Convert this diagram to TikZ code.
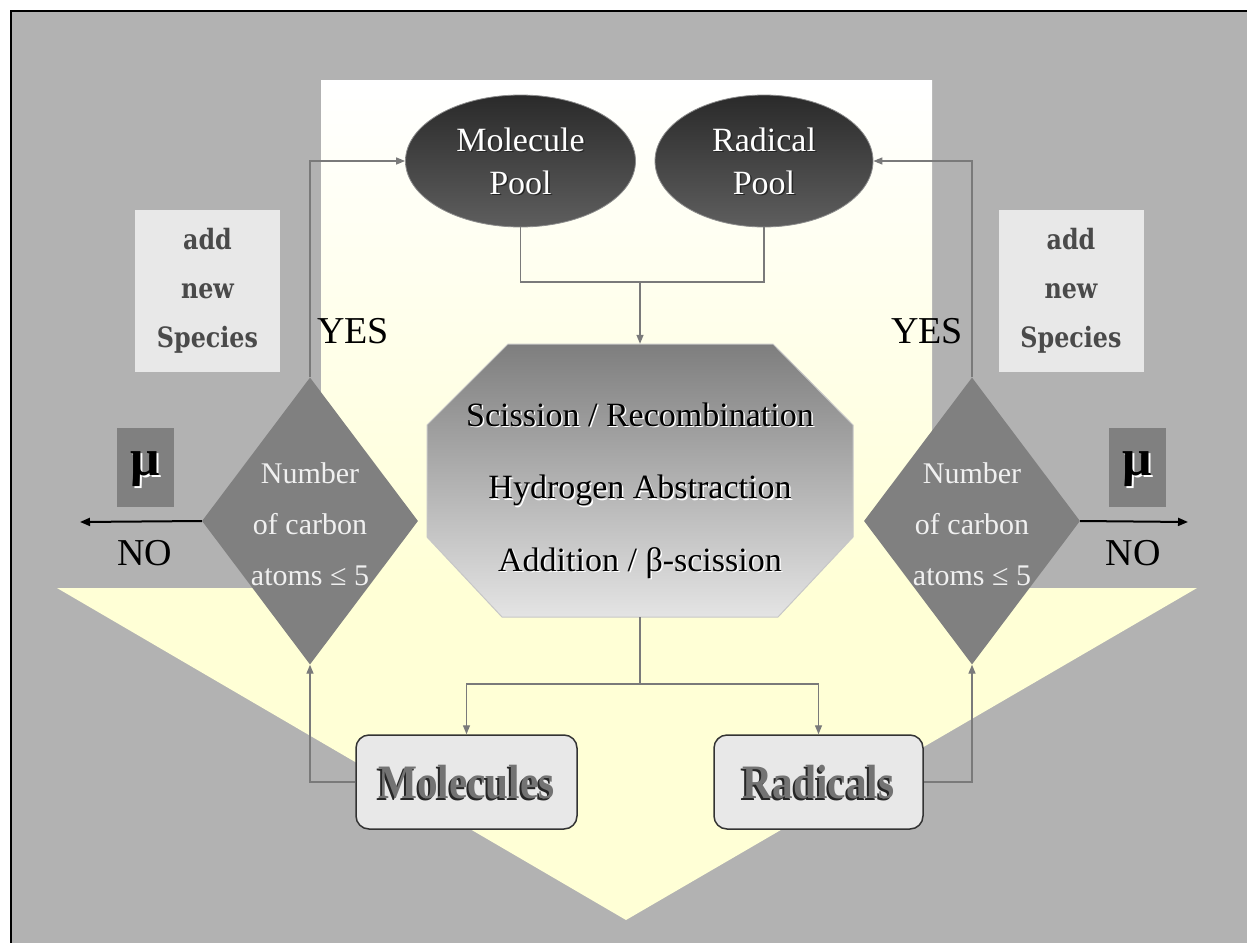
\documentclass[tikz,border=0pt]{standalone}
\usepackage{fontspec}
\setmainfont{Liberation Serif}
\newfontfamily\slabfont{DejaVu Serif}[FakeStretch=0.85]
\newfontfamily\boxfont{Liberation Serif}[FakeStretch=0.86]
\usetikzlibrary{shapes.geometric,arrows.meta,calc}

\definecolor{bggray}{HTML}{B2B2B2}
\definecolor{paleyellow}{HTML}{FFFFD6}
\definecolor{lightbox}{HTML}{E8E8E8}
\definecolor{midgray}{HTML}{808080}
\definecolor{linegray}{HTML}{7A7A7A}
\definecolor{darktext}{HTML}{4A4A4A}
\definecolor{poolTop}{HTML}{2A2A2A}
\definecolor{poolBot}{HTML}{5E5E5E}
\definecolor{octTop}{HTML}{7E7E7E}
\definecolor{octBot}{HTML}{E4E4E4}
\definecolor{embossgray}{HTML}{737373}

% background block arrow: white at the top, pale yellow from the head down
\pgfdeclareverticalshading{arrowfill}{100bp}{color(0bp)=(paleyellow); color(44.8bp)=(paleyellow); color(75bp)=(white); color(100bp)=(white)}

% text with an offset copy behind it
\newcommand\dropshadowtext[4]{\makebox[0pt][l]{\hspace*{#2}\raisebox{#3}[0pt][0pt]{\color{#1}#4}}#4}

\begin{document}
\begin{tikzpicture}[x=1pt,y=-1pt,
  conn/.style={draw=linegray, line width=1.4pt, -{Triangle[length=9pt,width=7pt]}},
  gline/.style={draw=linegray, line width=1.4pt},
  noarrow/.style={draw=black, line width=2pt, -{Triangle[length=10pt,width=8pt]}},
  pool/.style={ellipse, draw=black!45, line width=0.8pt, top color=poolTop, bottom color=poolBot,
    text=white, align=center, font=\fontsize{34}{43}\selectfont, inner sep=0pt, minimum height=132pt},
  decision/.style={diamond, fill=midgray, minimum width=216pt, minimum height=287pt, inner sep=0pt},
  decisiontext/.style={text=white!94!black, align=center, font=\fontsize{30}{51}\selectfont, inner sep=0pt},
  addbox/.style={fill=lightbox, minimum width=145pt, minimum height=162pt, align=center,
    font=\slabfont\bfseries\fontsize{28}{49}\selectfont, text=darktext, inner sep=0pt},
  mubox/.style={fill=midgray, minimum width=57pt, minimum height=79pt, inner sep=0pt,
    font=\bfseries\fontsize{52}{52}\selectfont, text=black},
  yesno/.style={text=black, font=\fontsize{38}{38}\selectfont, inner sep=0pt},
  specbox/.style={rounded corners=13pt, draw=black!80, line width=1.5pt, fill=lightbox,
    minimum height=94pt, inner sep=0pt, font=\boxfont\bfseries\fontsize{48}{48}\selectfont, text=embossgray},
  octtext/.style={align=center, text=black, font=\fontsize{34}{72.5}\selectfont, inner sep=0pt}
]
\useasboundingbox (0,0) rectangle (1247,942);
\clip (0,0) rectangle (1247,942);
\fill[white] (0,0) rectangle (1247,942);

% framed gray panel
\draw[fill=bggray, draw=black, line width=2.5pt] (11,11) rectangle (1265,965);

% block arrow pointing down
\shade[shading=arrowfill] (321,80) -- (932,80) -- (932,588) -- (1197,588) -- (626,920)
  -- (57,588) -- (321,588) -- cycle;

% reaction octagon: shaded outline, an invisible node for its anchors, and its text
\shade[top color=octTop, bottom color=octBot, draw=black!22, line width=1pt]
  (508,344) -- (773,344) -- (853,425) -- (853,537) -- (778,617) -- (502,617)
  -- (427,537) -- (427,425) -- cycle;
\node[minimum width=426pt, minimum height=273pt, inner sep=0pt] (oct) at (640,480.5) {};
\node[octtext] (octt) at (640,490.5)
  {\dropshadowtext{white}{1.5pt}{-1.5pt}{Scission / Recombination}\\
   \dropshadowtext{white}{1.5pt}{-1.5pt}{Hydrogen Abstraction}\\
   \dropshadowtext{white}{1.5pt}{-1.5pt}{Addition / β-scission}};

% pools
\node[pool, minimum width=230pt] (mpool) at (520.5,161)
  {\raisebox{-2pt}{\dropshadowtext{black!85}{1.5pt}{-1.5pt}{Molecule}}\\\raisebox{-2pt}{\dropshadowtext{black!85}{1.5pt}{-1.5pt}{Pool}}};
\node[pool, minimum width=218pt] (rpool) at (764,161)
  {\raisebox{-2pt}{\dropshadowtext{black!85}{1.5pt}{-1.5pt}{Radical}}\\\raisebox{-2pt}{\dropshadowtext{black!85}{1.5pt}{-1.5pt}{Pool}}};

% products
\node[specbox, minimum width=221pt] (mol) at (466.5,782) {\dropshadowtext{black!85}{-2pt}{-2pt}{Molecules}};
\node[specbox, minimum width=209pt] (rad) at (818.5,782) {\dropshadowtext{black!85}{-2pt}{-2pt}{Radicals}};

% decisions
\node[decision] (dl) at (310,521) {};
\node[decisiontext] (dlt) at (310,524) {Number\\of carbon\\atoms ≤ 5};
\node[decision] (dr) at (972,521) {};
\node[decisiontext] (drt) at (972,524) {Number\\of carbon\\atoms ≤ 5};

% side labels
\node[addbox] (addL) at (207.5,291) {add\\new\\Species};
\node[addbox] (addR) at (1071,291) {add\\new\\Species};
\node[mubox] (muL) at (145.5,467.5) {\raisebox{-8pt}[0pt][0pt]{\dropshadowtext{white}{1.5pt}{-1.5pt}{μ}}};
\node[mubox] (muR) at (1137.5,467.5) {\raisebox{-8pt}[0pt][0pt]{\dropshadowtext{white}{1.5pt}{-1.5pt}{μ}}};
\node[yesno] (yesL) at (353,331) {YES};
\node[yesno] (yesR) at (927,331) {YES};
\node[yesno] (noLt) at (145,553) {NO};
\node[yesno] (noRt) at (1133,553) {NO};

% connectors
\coordinate (join) at (640,282);
\draw[gline] (mpool.south) |- (join) -| (rpool.south);
\draw[conn] (join) -- (oct.north);

\coordinate (split) at (640,684);
\draw[gline] (oct.south) -- (split);
\draw[conn] (split) -| (mol.north);
\draw[conn] (split) -| (rad.north);

\draw[conn] (mol.west) -| (dl.south);
\draw[conn] (rad.east) -| (dr.south);
\draw[conn] (dl.north) |- (mpool.west);
\draw[conn] (dr.north) |- (rpool.east);

\coordinate (noL) at (80,522);
\coordinate (noR) at (1188,522);
\draw[noarrow] (dl.west) -- (noL);
\draw[noarrow] (dr.east) -- (noR);
\end{tikzpicture}
\end{document}
